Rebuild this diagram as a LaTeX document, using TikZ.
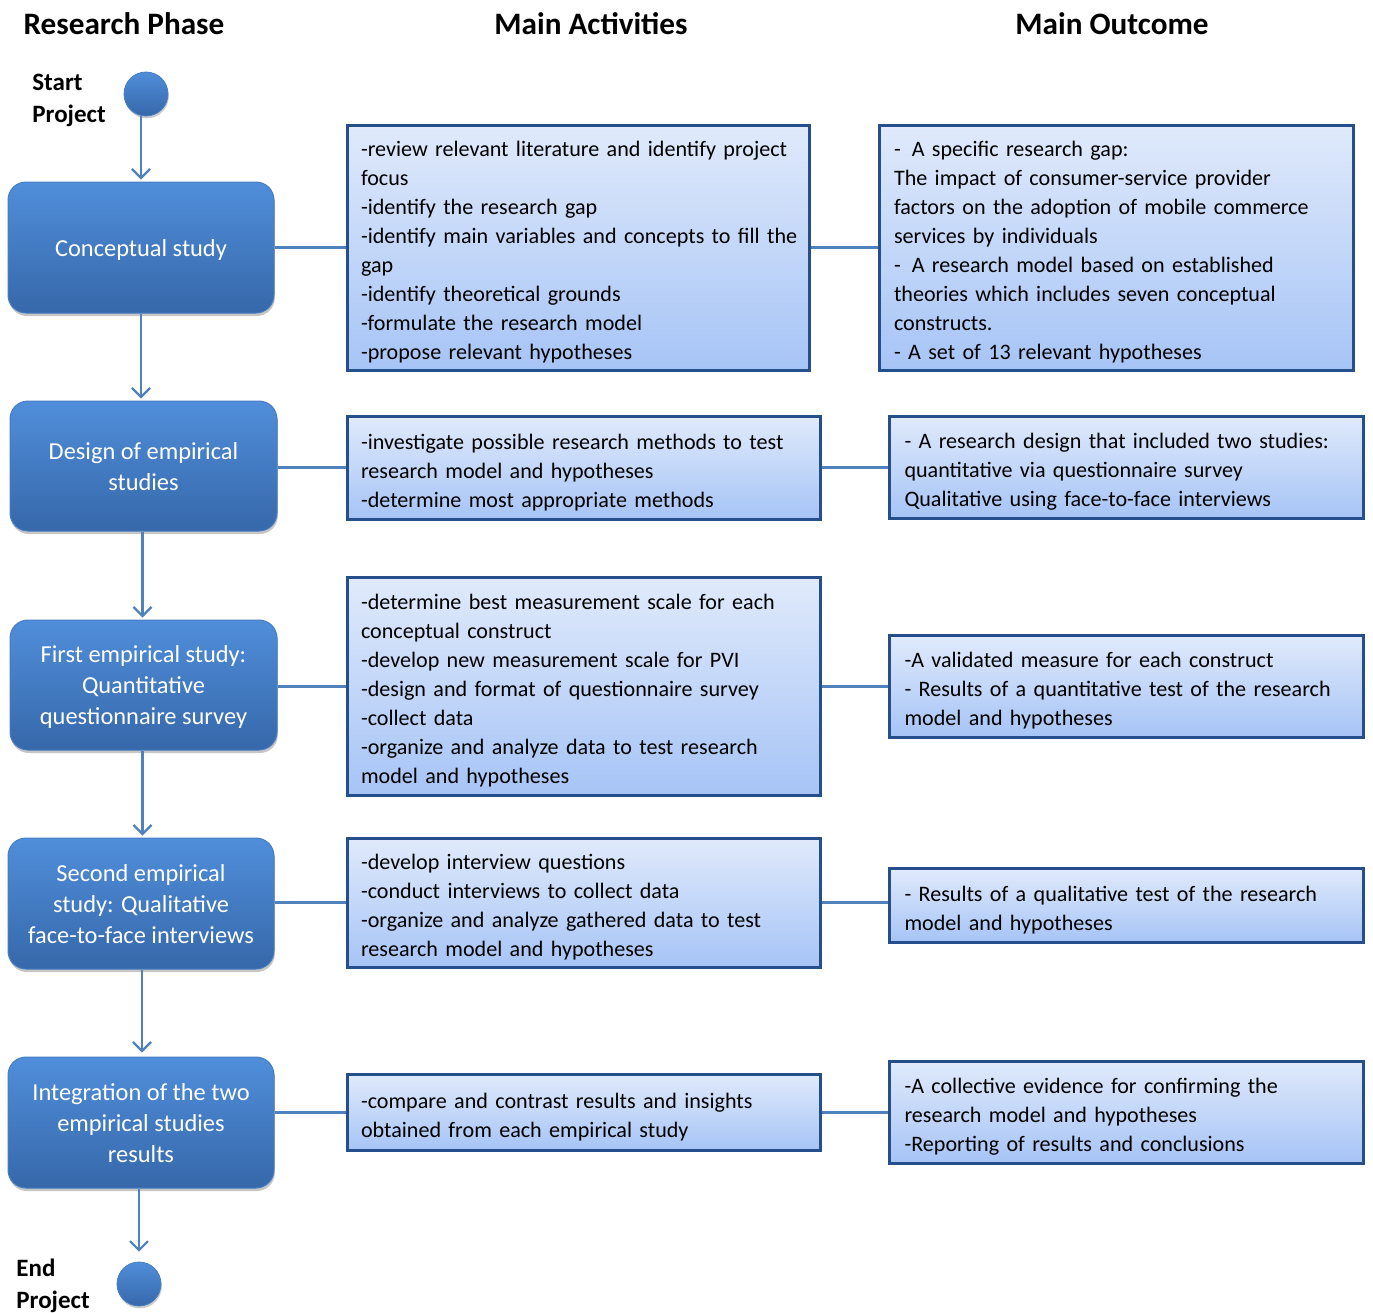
\documentclass[tikz,border=0pt]{standalone}
\usepackage{fontspec}
\setmainfont{Carlito}
\usetikzlibrary{arrows.meta,shadows}

\definecolor{linkblue}{RGB}{79,129,189}
\definecolor{phasetop}{RGB}{80,142,218}
\definecolor{phasebot}{RGB}{54,104,170}
\definecolor{phaseedge}{RGB}{70,125,195}
\definecolor{boxtop}{RGB}{224,234,251}
\definecolor{boxbot}{RGB}{166,196,246}
\definecolor{boxedge}{RGB}{38,78,138}

% set a block of lines flush left without re-breaking them
\newcommand{\boxlines}[1]{\raisebox{-2.5pt}[\height][\depth]{\begin{tabular}{@{}l@{}}#1\end{tabular}}}
% centred block of lines for the phase boxes
\newcommand{\phaselines}[1]{\raisebox{-1.2pt}[\height][\depth]{\begin{tabular}{@{}c@{}}#1\end{tabular}}}

\begin{document}
\begin{tikzpicture}[x=0.5pt,y=-0.5pt,
  header/.style={font=\fontsize{15.6}{18}\selectfont\bfseries},
  endlabel/.style={font=\fontsize{12.5}{16}\selectfont\bfseries, align=left, anchor=west, inner sep=0pt},
  terminal/.style={circle, minimum size=22pt, inner sep=0pt, draw=phaseedge, line width=0.4pt,
    top color=phasetop, bottom color=phasebot,
    drop shadow={shadow xshift=0.4pt, shadow yshift=-1.2pt, opacity=0.4}},
  phase/.style={rounded corners=9pt, draw=phaseedge, line width=0.5pt,
    top color=phasetop, bottom color=phasebot, text=white,
    inner sep=0pt, font=\fontsize{12.2}{15.5}\selectfont,
    drop shadow={shadow xshift=0.4pt, shadow yshift=-1.5pt, opacity=0.45}},
  infobox/.style={draw=boxedge, line width=1.5pt, top color=boxtop, bottom color=boxbot,
    inner xsep=7pt, inner ysep=0pt, font=\fontsize{11.05}{14.5}\selectfont},
  link/.style={draw=linkblue, line width=1.5pt},
  flow/.style={draw=linkblue, line width=1.1pt, -{Straight Barb[length=4.5pt,width=9pt,line width=1.1pt]}}
]
\useasboundingbox (0,0) rectangle (1373,1313);

% column headings
\node[header] (h1) at (124,24) {Research Phase};
\node[header] (h2) at (591,24) {Main Activities};
\node[header] (h3) at (1112,24) {Main Outcome};

% start and end terminals
\node[terminal] (start) at (146,94) {};
\node[endlabel] (startlbl) at (32,100) {Start\\Project};
\node[terminal] (finish) at (139,1284) {};
\node[endlabel] (finishlbl) at (16,1286) {End\\Project};

% research phases
\node[phase, minimum width=133pt, minimum height=65.5pt] (p1) at (141,247.5) {\phaselines{Conceptual study}};
\node[phase, minimum width=133.5pt, minimum height=65pt] (p2) at (143.5,466) {\phaselines{Design of empirical\\studies}};
\node[phase, minimum width=133.5pt, minimum height=65pt] (p3) at (143.5,685) {\phaselines{First empirical study:\\Quantitative\\questionnaire survey}};
\node[phase, minimum width=133pt, minimum height=65.5pt] (p4) at (141,903.5) {\phaselines{Second empirical\\study: Qualitative\\face-to-face interviews}};
\node[phase, minimum width=133pt, minimum height=65.5pt] (p5) at (141,1122.5) {\phaselines{Integration of the two\\empirical studies\\results}};

% main activities
\node[infobox, text width=217pt, minimum height=122.5pt] (a1) at (578,247.5) {\boxlines{-review relevant literature and identify project\\focus\\-identify the research gap\\-identify main variables and concepts to fill the\\gap\\-identify theoretical grounds\\-formulate the research model\\-propose relevant hypotheses}};
\node[infobox, text width=222.5pt, minimum height=51.5pt] (a2) at (583.5,467.5) {\boxlines{-investigate possible research methods to test\\research model and hypotheses\\-determine most appropriate methods}};
\node[infobox, text width=222.5pt, minimum height=109pt] (a3) at (583.5,686) {\boxlines{-determine best measurement scale for each\\conceptual construct\\-develop new measurement scale for PVI\\-design and format of questionnaire survey\\-collect data\\-organize and analyze data to test research\\model and hypotheses}};
\node[infobox, text width=222.5pt, minimum height=64.5pt] (a4) at (583.5,902.5) {\boxlines{-develop interview questions\\-conduct interviews to collect data\\-organize and analyze gathered data to test\\research model and hypotheses}};
\node[infobox, text width=222.5pt, minimum height=38pt] (a5) at (583.5,1112) {\boxlines{-compare and contrast results and insights\\obtained from each empirical study}};

% main outcomes
\node[infobox, text width=222pt, minimum height=122.5pt, inner xsep=7.5pt] (o1) at (1116,247.5) {\boxlines{- \,A specific research gap:\\The impact of consumer-service provider\\factors on the adoption of mobile commerce\\services by individuals\\- \,A research model based on established\\theories which includes seven conceptual\\constructs.\\- A set of 13 relevant hypotheses}};
\node[infobox, text width=222pt, minimum height=51pt, inner xsep=7.5pt] (o2) at (1126.5,467) {\boxlines{- A research design that included two studies:\\quantitative via questionnaire survey\\Qualitative using face-to-face interviews}};
\node[infobox, text width=222pt, minimum height=51pt, inner xsep=7.5pt] (o3) at (1126.5,686) {\boxlines{-A validated measure for each construct\\- Results of a quantitative test of the research\\model and hypotheses}};
\node[infobox, text width=222pt, minimum height=37pt, inner xsep=7.5pt] (o4) at (1126.5,905) {\boxlines{- Results of a qualitative test of the research\\model and hypotheses}};
\node[infobox, text width=222pt, minimum height=51pt, inner xsep=7.5pt] (o5) at (1126.5,1112) {\boxlines{-A collective evidence for confirming the\\research model and hypotheses\\-Reporting of results and conclusions}};

% horizontal links phase -> activity -> outcome
\foreach \i in {1,...,5} {
  \draw[link] (p\i.east |- a\i.west) -- (a\i.west);
  \draw[link] (a\i.east) -- (o\i.west |- a\i.east);
}

% vertical flow
\draw[flow] (p1.north |- start.south) -- ([yshift=1pt]p1.north);
\draw[flow] (p1.south) -- ([yshift=1pt]p1.south |- p2.north);
\draw[flow] ([xshift=-0.5pt]p2.south) -- ([xshift=-0.5pt,yshift=1pt]p2.south |- p3.north);
\draw[flow] ([xshift=-0.5pt]p3.south) -- ([xshift=-0.5pt,yshift=1pt]p3.south |- p4.north);
\draw[flow] ([xshift=0.5pt]p4.south) -- ([xshift=0.5pt,yshift=2pt]p4.south |- p5.north);
\draw[flow] (finish.north |- p5.south) -- ([yshift=5pt]finish.north);
\end{tikzpicture}
\end{document}
